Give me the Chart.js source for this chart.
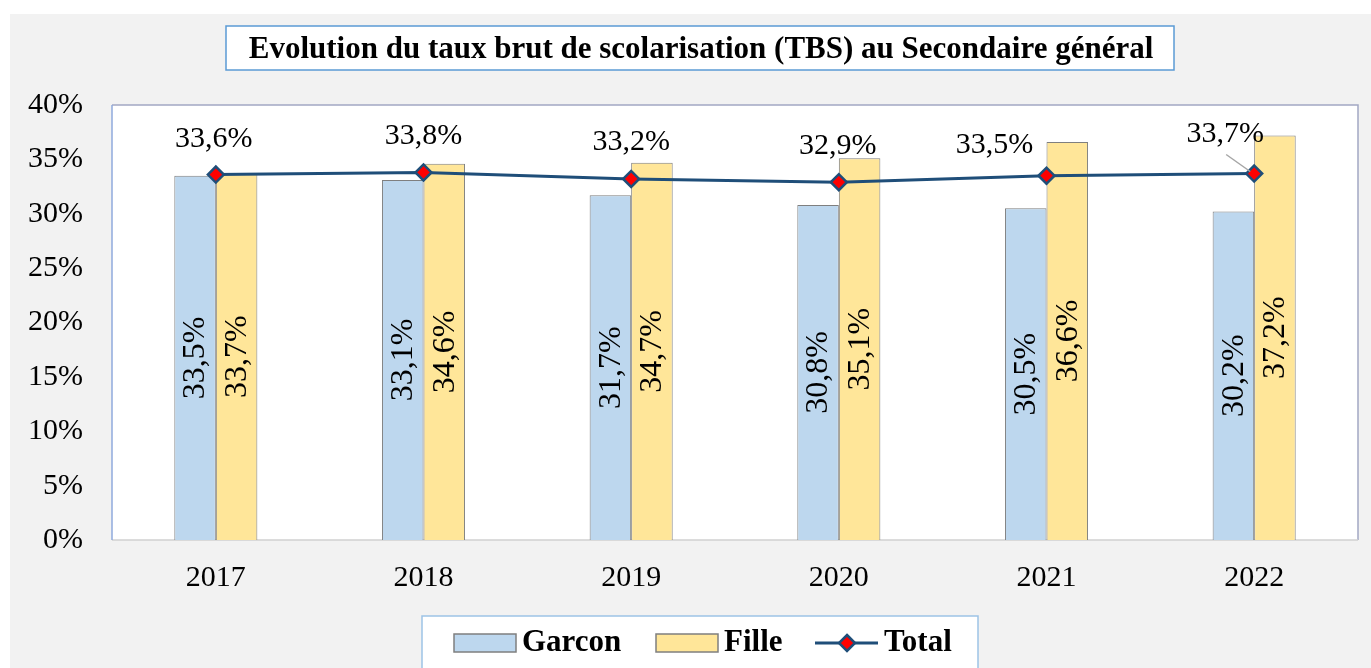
<!DOCTYPE html>
<html>
<head>
<meta charset="utf-8">
<script src="https://cdn.jsdelivr.net/npm/chart.js@4.4.1/dist/chart.umd.min.js"></script>
<style>
  html, body { margin: 0; padding: 0; background: #ffffff; }
  #c { display: block; }
</style>
</head>
<body>
<canvas id="c" width="1371" height="668"></canvas>
<script>
// ---- data ----
const years = ['2017', '2018', '2019', '2020', '2021', '2022'];
const garcon = [33.5, 33.1, 31.7, 30.8, 30.5, 30.2];
const fille = [33.7, 34.6, 34.7, 35.1, 36.6, 37.2];
const total = [33.6, 33.8, 33.2, 32.9, 33.5, 33.7];
const yTicks = [0, 5, 10, 15, 20, 25, 30, 35, 40];
const titleText = 'Evolution du taux brut de scolarisation (TBS) au Secondaire général';
const seriesNames = ['Garcon', 'Fille', 'Total'];

// label placement (style only)
const totalLabelOffsets = [[-2, -28], [0, -28], [0, -29], [-1, -28], [-52, -23], [-29, -32]];

const SERIF = '"Liberation Serif", "Times New Roman", serif';
const fmt = v => v.toFixed(1).replace('.', ',') + '%';

const decor = {
  id: 'decor',
  beforeDraw(chart) {
    const ctx = chart.ctx;
    ctx.save();
    ctx.fillStyle = '#ffffff';
    ctx.fillRect(0, 0, chart.width, chart.height);
    ctx.fillStyle = '#f2f2f2';
    ctx.fillRect(10, 14, chart.width - 10, chart.height - 14);
    const a = chart.chartArea;
    ctx.fillStyle = '#ffffff';
    ctx.fillRect(a.left, a.top, a.right - a.left, a.bottom - a.top);
    // title box
    ctx.fillStyle = '#ffffff';
    ctx.fillRect(226, 26, 948, 44);
    ctx.strokeStyle = '#5b9bd5';
    ctx.lineWidth = 1.5;
    ctx.strokeRect(226, 26, 948, 44);
    ctx.fillStyle = '#000000';
    ctx.font = 'bold 31px ' + SERIF;
    ctx.textAlign = 'center';
    ctx.textBaseline = 'alphabetic';
    ctx.fillText(titleText, 701, 58);
    ctx.restore();
  },
  beforeDatasetsDraw(chart) {
    const ctx = chart.ctx;
    const a = chart.chartArea;
    ctx.save();
    ctx.lineWidth = 1.5;
    ctx.strokeStyle = '#a3a8c3';
    ctx.beginPath();
    ctx.moveTo(a.left, a.top); ctx.lineTo(a.right, a.top); ctx.lineTo(a.right, a.bottom);
    ctx.stroke();
    ctx.strokeStyle = '#d0d0d0';
    ctx.beginPath();
    ctx.moveTo(a.left, a.bottom); ctx.lineTo(a.right, a.bottom);
    ctx.stroke();
    ctx.strokeStyle = '#8faadc';
    ctx.beginPath();
    ctx.moveTo(a.left, a.top); ctx.lineTo(a.left, a.bottom);
    ctx.stroke();
    ctx.restore();
  },
  afterDatasetsDraw(chart) {
    const ctx = chart.ctx;
    ctx.save();
    ctx.fillStyle = '#000000';
    // bar labels (rotated)
    ctx.font = '32px ' + SERIF;
    [0, 1].forEach(di => {
      const meta = chart.getDatasetMeta(di);
      const vals = chart.data.datasets[di].data;
      meta.data.forEach((el, i) => {
        const cy = (el.y + el.base) / 2;
        ctx.save();
        ctx.translate(el.x, cy);
        ctx.rotate(-Math.PI / 2);
        ctx.textAlign = 'center';
        ctx.textBaseline = 'middle';
        ctx.fillText(fmt(vals[i]), 0, 1);
        ctx.restore();
      });
    });
    // total labels
    ctx.font = '30px ' + SERIF;
    const lm = chart.getDatasetMeta(2);
    const tv = chart.data.datasets[2].data;
    lm.data.forEach((pt, i) => {
      const [dx, dy] = totalLabelOffsets[i];
      const lx = pt.x + dx, ly = pt.y + dy;
      if (Math.abs(dx) > 20 && i === tv.length - 1) {
        ctx.strokeStyle = '#a6a6a6';
        ctx.lineWidth = 1.5;
        ctx.beginPath();
        ctx.moveTo(pt.x - 28, pt.y - 19);
        ctx.lineTo(pt.x - 4, pt.y - 2);
        ctx.stroke();
      }
      ctx.fillStyle = '#000000';
      ctx.textAlign = 'center';
      ctx.textBaseline = 'alphabetic';
      ctx.fillText(fmt(tv[i]), lx, ly);
    });
    ctx.restore();
  },
  afterDraw(chart) {
    const ctx = chart.ctx;
    ctx.save();
    // legend box
    ctx.fillStyle = '#ffffff';
    ctx.fillRect(422, 616, 556, 60);
    ctx.strokeStyle = '#9dc3e6';
    ctx.lineWidth = 1.5;
    ctx.strokeRect(422, 616, 556, 60);
    ctx.font = 'bold 31px ' + SERIF;
    ctx.textAlign = 'left';
    ctx.textBaseline = 'alphabetic';
    const ds = chart.data.datasets;
    // Garcon swatch
    ctx.fillStyle = ds[0].backgroundColor;
    ctx.fillRect(454, 634, 62, 18);
    ctx.strokeStyle = '#7f7f7f';
    ctx.lineWidth = 1.5;
    ctx.strokeRect(454, 634, 62, 18);
    ctx.fillStyle = '#000';
    ctx.fillText(seriesNames[0], 522, 651);
    // Fille swatch
    ctx.fillStyle = ds[1].backgroundColor;
    ctx.fillRect(656, 634, 62, 18);
    ctx.strokeRect(656, 634, 62, 18);
    ctx.fillStyle = '#000';
    ctx.fillText(seriesNames[1], 724, 651);
    // Total line
    ctx.strokeStyle = ds[2].borderColor;
    ctx.lineWidth = 3;
    ctx.beginPath();
    ctx.moveTo(815, 643); ctx.lineTo(878, 643);
    ctx.stroke();
    ctx.beginPath();
    ctx.moveTo(847, 635); ctx.lineTo(855, 643); ctx.lineTo(847, 651); ctx.lineTo(839, 643); ctx.closePath();
    ctx.fillStyle = '#ff0000';
    ctx.fill();
    ctx.lineWidth = 2.5;
    ctx.stroke();
    ctx.fillStyle = '#000';
    ctx.fillText(seriesNames[2], 884, 651);
    ctx.restore();
  }
};

new Chart(document.getElementById('c'), {
  type: 'bar',
  data: {
    labels: years,
    datasets: [
      {
        label: seriesNames[0], data: garcon, order: 2,
        backgroundColor: '#bdd7ee', borderColor: '#7f7f7f', borderWidth: 1,
        categoryPercentage: 0.4, barPercentage: 1.0
      },
      {
        label: seriesNames[1], data: fille, order: 2,
        backgroundColor: '#ffe699', borderColor: '#7f7f7f', borderWidth: 1,
        categoryPercentage: 0.4, barPercentage: 1.0
      },
      {
        type: 'line', label: seriesNames[2], data: total, order: 0,
        borderColor: '#1f4e79', borderWidth: 3, tension: 0,
        pointStyle: 'rectRot', pointRadius: 8, pointBackgroundColor: '#ff0000',
        pointBorderColor: '#1f4e79', pointBorderWidth: 2.5
      }
    ]
  },
  options: {
    responsive: false,
    devicePixelRatio: 1,
    animation: false,
    layout: { padding: { left: 10, top: 105, right: 13, bottom: 0 } },
    plugins: { legend: { display: false }, tooltip: { enabled: false }, title: { display: false } },
    scales: {
      x: {
        grid: { display: false, drawTicks: false },
        border: { display: false },
        ticks: { font: { family: SERIF, size: 30 }, color: '#000', padding: 20 },
        afterFit(s) { s.height = 128; }
      },
      y: {
        min: 0, max: 40,
        grid: { display: false, drawTicks: false },
        border: { display: false },
        afterBuildTicks(s) { s.ticks = yTicks.map(v => ({ value: v })); },
        ticks: { font: { family: SERIF, size: 30 }, color: '#000', padding: 29, callback: v => v + '%' },
        afterFit(s) { s.width = 102; }
      }
    }
  },
  plugins: [decor]
});
</script>
</body>
</html>
